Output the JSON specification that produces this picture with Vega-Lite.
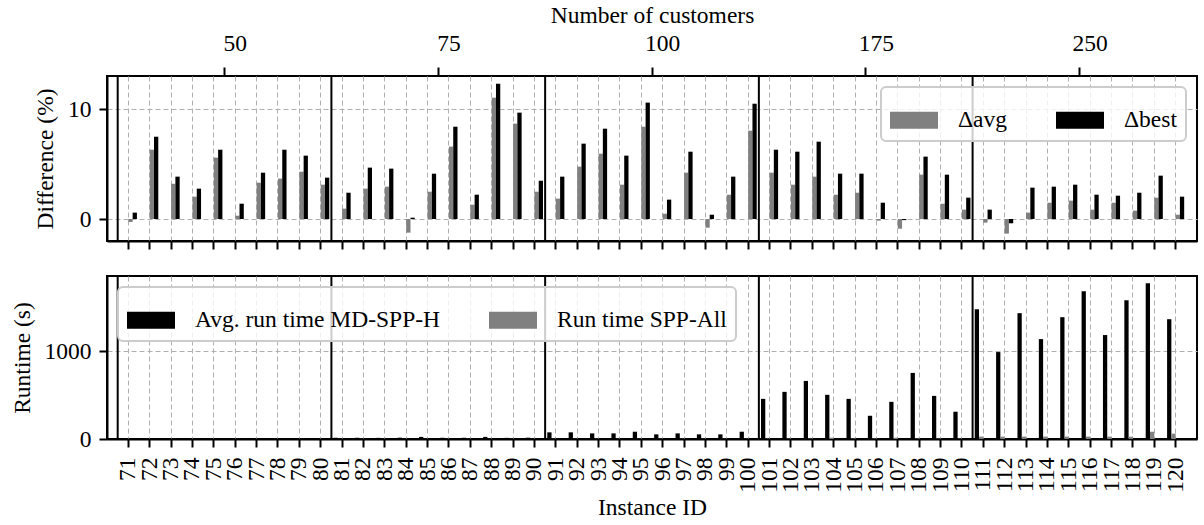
{
  "$schema": "https://vega.github.io/schema/vega-lite/v6.json",
  "padding": {"left": 9, "top": 2, "right": 5, "bottom": 0},
  "datasets": {
    "diff": [
      {"id":71,"measure":"Δavg","value":-0.27},{"id":71,"measure":"Δbest","value":0.58},
      {"id":72,"measure":"Δavg","value":6.30},{"id":72,"measure":"Δbest","value":7.48},
      {"id":73,"measure":"Δavg","value":3.20},{"id":73,"measure":"Δbest","value":3.85},
      {"id":74,"measure":"Δavg","value":2.03},{"id":74,"measure":"Δbest","value":2.76},
      {"id":75,"measure":"Δavg","value":5.58},{"id":75,"measure":"Δbest","value":6.30},
      {"id":76,"measure":"Δavg","value":0.30},{"id":76,"measure":"Δbest","value":1.39},
      {"id":77,"measure":"Δavg","value":3.30},{"id":77,"measure":"Δbest","value":4.21},
      {"id":78,"measure":"Δavg","value":3.67},{"id":78,"measure":"Δbest","value":6.30},
      {"id":79,"measure":"Δavg","value":4.30},{"id":79,"measure":"Δbest","value":5.76},
      {"id":80,"measure":"Δavg","value":3.12},{"id":80,"measure":"Δbest","value":3.76},
      {"id":81,"measure":"Δavg","value":0.94},{"id":81,"measure":"Δbest","value":2.39},
      {"id":82,"measure":"Δavg","value":2.76},{"id":82,"measure":"Δbest","value":4.67},
      {"id":83,"measure":"Δavg","value":2.94},{"id":83,"measure":"Δbest","value":4.58},
      {"id":84,"measure":"Δavg","value":-1.24},{"id":84,"measure":"Δbest","value":0.12},
      {"id":85,"measure":"Δavg","value":2.48},{"id":85,"measure":"Δbest","value":4.12},
      {"id":86,"measure":"Δavg","value":6.58},{"id":86,"measure":"Δbest","value":8.39},
      {"id":87,"measure":"Δavg","value":1.30},{"id":87,"measure":"Δbest","value":2.21},
      {"id":88,"measure":"Δavg","value":11.03},{"id":88,"measure":"Δbest","value":12.30},
      {"id":89,"measure":"Δavg","value":8.67},{"id":89,"measure":"Δbest","value":9.67},
      {"id":90,"measure":"Δavg","value":2.48},{"id":90,"measure":"Δbest","value":3.48},
      {"id":91,"measure":"Δavg","value":1.85},{"id":91,"measure":"Δbest","value":3.85},
      {"id":92,"measure":"Δavg","value":4.76},{"id":92,"measure":"Δbest","value":6.85},
      {"id":93,"measure":"Δavg","value":5.94},{"id":93,"measure":"Δbest","value":8.21},
      {"id":94,"measure":"Δavg","value":3.12},{"id":94,"measure":"Δbest","value":5.76},
      {"id":95,"measure":"Δavg","value":8.39},{"id":95,"measure":"Δbest","value":10.58},
      {"id":96,"measure":"Δavg","value":0.48},{"id":96,"measure":"Δbest","value":1.76},
      {"id":97,"measure":"Δavg","value":4.21},{"id":97,"measure":"Δbest","value":6.12},
      {"id":98,"measure":"Δavg","value":-0.79},{"id":98,"measure":"Δbest","value":0.39},
      {"id":99,"measure":"Δavg","value":2.21},{"id":99,"measure":"Δbest","value":3.85},
      {"id":100,"measure":"Δavg","value":8.03},{"id":100,"measure":"Δbest","value":10.48},
      {"id":101,"measure":"Δavg","value":4.21},{"id":101,"measure":"Δbest","value":6.30},
      {"id":102,"measure":"Δavg","value":3.12},{"id":102,"measure":"Δbest","value":6.12},
      {"id":103,"measure":"Δavg","value":3.85},{"id":103,"measure":"Δbest","value":7.03},
      {"id":104,"measure":"Δavg","value":2.21},{"id":104,"measure":"Δbest","value":4.12},
      {"id":105,"measure":"Δavg","value":2.39},{"id":105,"measure":"Δbest","value":4.12},
      {"id":106,"measure":"Δavg","value":-0.15},{"id":106,"measure":"Δbest","value":1.48},
      {"id":107,"measure":"Δavg","value":-0.88},{"id":107,"measure":"Δbest","value":-0.10},
      {"id":108,"measure":"Δavg","value":4.03},{"id":108,"measure":"Δbest","value":5.67},
      {"id":109,"measure":"Δavg","value":1.39},{"id":109,"measure":"Δbest","value":4.03},
      {"id":110,"measure":"Δavg","value":0.85},{"id":110,"measure":"Δbest","value":1.94},
      {"id":111,"measure":"Δavg","value":-0.33},{"id":111,"measure":"Δbest","value":0.85},
      {"id":112,"measure":"Δavg","value":-1.33},{"id":112,"measure":"Δbest","value":-0.39},
      {"id":113,"measure":"Δavg","value":0.58},{"id":113,"measure":"Δbest","value":2.85},
      {"id":114,"measure":"Δavg","value":1.48},{"id":114,"measure":"Δbest","value":2.94},
      {"id":115,"measure":"Δavg","value":1.67},{"id":115,"measure":"Δbest","value":3.12},
      {"id":116,"measure":"Δavg","value":0.85},{"id":116,"measure":"Δbest","value":2.21},
      {"id":117,"measure":"Δavg","value":1.48},{"id":117,"measure":"Δbest","value":2.12},
      {"id":118,"measure":"Δavg","value":0.76},{"id":118,"measure":"Δbest","value":2.39},
      {"id":119,"measure":"Δavg","value":1.94},{"id":119,"measure":"Δbest","value":3.94},
      {"id":120,"measure":"Δavg","value":0.39},{"id":120,"measure":"Δbest","value":2.03}
    ],
    "runtime": [
      {"id":71,"measure":"Avg. run time MD-SPP-H","value":3},{"id":71,"measure":"Run time SPP-All","value":0.5},
      {"id":72,"measure":"Avg. run time MD-SPP-H","value":3},{"id":72,"measure":"Run time SPP-All","value":0.5},
      {"id":73,"measure":"Avg. run time MD-SPP-H","value":3},{"id":73,"measure":"Run time SPP-All","value":0.5},
      {"id":74,"measure":"Avg. run time MD-SPP-H","value":3},{"id":74,"measure":"Run time SPP-All","value":0.5},
      {"id":75,"measure":"Avg. run time MD-SPP-H","value":4},{"id":75,"measure":"Run time SPP-All","value":0.5},
      {"id":76,"measure":"Avg. run time MD-SPP-H","value":3},{"id":76,"measure":"Run time SPP-All","value":0.5},
      {"id":77,"measure":"Avg. run time MD-SPP-H","value":3},{"id":77,"measure":"Run time SPP-All","value":0.5},
      {"id":78,"measure":"Avg. run time MD-SPP-H","value":4},{"id":78,"measure":"Run time SPP-All","value":0.5},
      {"id":79,"measure":"Avg. run time MD-SPP-H","value":3},{"id":79,"measure":"Run time SPP-All","value":0.5},
      {"id":80,"measure":"Avg. run time MD-SPP-H","value":3},{"id":80,"measure":"Run time SPP-All","value":0.5},
      {"id":81,"measure":"Avg. run time MD-SPP-H","value":14},{"id":81,"measure":"Run time SPP-All","value":1},
      {"id":82,"measure":"Avg. run time MD-SPP-H","value":14},{"id":82,"measure":"Run time SPP-All","value":1},
      {"id":83,"measure":"Avg. run time MD-SPP-H","value":13},{"id":83,"measure":"Run time SPP-All","value":1},
      {"id":84,"measure":"Avg. run time MD-SPP-H","value":15},{"id":84,"measure":"Run time SPP-All","value":1},
      {"id":85,"measure":"Avg. run time MD-SPP-H","value":24},{"id":85,"measure":"Run time SPP-All","value":1},
      {"id":86,"measure":"Avg. run time MD-SPP-H","value":14},{"id":86,"measure":"Run time SPP-All","value":1},
      {"id":87,"measure":"Avg. run time MD-SPP-H","value":14},{"id":87,"measure":"Run time SPP-All","value":1},
      {"id":88,"measure":"Avg. run time MD-SPP-H","value":24},{"id":88,"measure":"Run time SPP-All","value":1},
      {"id":89,"measure":"Avg. run time MD-SPP-H","value":13},{"id":89,"measure":"Run time SPP-All","value":1},
      {"id":90,"measure":"Avg. run time MD-SPP-H","value":15},{"id":90,"measure":"Run time SPP-All","value":1},
      {"id":91,"measure":"Avg. run time MD-SPP-H","value":76},{"id":91,"measure":"Run time SPP-All","value":2},
      {"id":92,"measure":"Avg. run time MD-SPP-H","value":76},{"id":92,"measure":"Run time SPP-All","value":2},
      {"id":93,"measure":"Avg. run time MD-SPP-H","value":64},{"id":93,"measure":"Run time SPP-All","value":2},
      {"id":94,"measure":"Avg. run time MD-SPP-H","value":64},{"id":94,"measure":"Run time SPP-All","value":2},
      {"id":95,"measure":"Avg. run time MD-SPP-H","value":83},{"id":95,"measure":"Run time SPP-All","value":2},
      {"id":96,"measure":"Avg. run time MD-SPP-H","value":53},{"id":96,"measure":"Run time SPP-All","value":2},
      {"id":97,"measure":"Avg. run time MD-SPP-H","value":64},{"id":97,"measure":"Run time SPP-All","value":2},
      {"id":98,"measure":"Avg. run time MD-SPP-H","value":53},{"id":98,"measure":"Run time SPP-All","value":2},
      {"id":99,"measure":"Avg. run time MD-SPP-H","value":53},{"id":99,"measure":"Run time SPP-All","value":2},
      {"id":100,"measure":"Avg. run time MD-SPP-H","value":83},{"id":100,"measure":"Run time SPP-All","value":2},
      {"id":101,"measure":"Avg. run time MD-SPP-H","value":458},{"id":101,"measure":"Run time SPP-All","value":4},
      {"id":102,"measure":"Avg. run time MD-SPP-H","value":538},{"id":102,"measure":"Run time SPP-All","value":4},
      {"id":103,"measure":"Avg. run time MD-SPP-H","value":663},{"id":103,"measure":"Run time SPP-All","value":4},
      {"id":104,"measure":"Avg. run time MD-SPP-H","value":504},{"id":104,"measure":"Run time SPP-All","value":15},
      {"id":105,"measure":"Avg. run time MD-SPP-H","value":458},{"id":105,"measure":"Run time SPP-All","value":4},
      {"id":106,"measure":"Avg. run time MD-SPP-H","value":265},{"id":106,"measure":"Run time SPP-All","value":4},
      {"id":107,"measure":"Avg. run time MD-SPP-H","value":424},{"id":107,"measure":"Run time SPP-All","value":15},
      {"id":108,"measure":"Avg. run time MD-SPP-H","value":754},{"id":108,"measure":"Run time SPP-All","value":4},
      {"id":109,"measure":"Avg. run time MD-SPP-H","value":492},{"id":109,"measure":"Run time SPP-All","value":4},
      {"id":110,"measure":"Avg. run time MD-SPP-H","value":311},{"id":110,"measure":"Run time SPP-All","value":4},
      {"id":111,"measure":"Avg. run time MD-SPP-H","value":1481},{"id":111,"measure":"Run time SPP-All","value":27},
      {"id":112,"measure":"Avg. run time MD-SPP-H","value":992},{"id":112,"measure":"Run time SPP-All","value":27},
      {"id":113,"measure":"Avg. run time MD-SPP-H","value":1436},{"id":113,"measure":"Run time SPP-All","value":27},
      {"id":114,"measure":"Avg. run time MD-SPP-H","value":1140},{"id":114,"measure":"Run time SPP-All","value":27},
      {"id":115,"measure":"Avg. run time MD-SPP-H","value":1390},{"id":115,"measure":"Run time SPP-All","value":27},
      {"id":116,"measure":"Avg. run time MD-SPP-H","value":1686},{"id":116,"measure":"Run time SPP-All","value":27},
      {"id":117,"measure":"Avg. run time MD-SPP-H","value":1186},{"id":117,"measure":"Run time SPP-All","value":27},
      {"id":118,"measure":"Avg. run time MD-SPP-H","value":1583},{"id":118,"measure":"Run time SPP-All","value":27},
      {"id":119,"measure":"Avg. run time MD-SPP-H","value":1776},{"id":119,"measure":"Run time SPP-All","value":83},
      {"id":120,"measure":"Avg. run time MD-SPP-H","value":1367},{"id":120,"measure":"Run time SPP-All","value":61}
    ],
    "groups": [
      {"customers":50,"first_id":71},
      {"customers":75,"first_id":81},
      {"customers":100,"first_id":91},
      {"customers":175,"first_id":101},
      {"customers":250,"first_id":111}
    ]
  },
  "vconcat": [
    {
      "width": 1090,
      "height": 165,
      "layer": [
        {
          "data": {"name": "diff"},
          "mark": {"type": "bar"},
          "encoding": {
            "x": {"field": "id", "type": "ordinal",
                  "scale": {"paddingInner": 0.2, "paddingOuter": 0.6},
                  "axis": {"orient": "bottom", "labels": false, "title": null, "grid": true}},
            "xOffset": {"field": "measure", "type": "nominal", "scale": {"paddingInner": 0, "paddingOuter": 0}},
            "y": {"field": "value", "type": "quantitative",
                  "scale": {"domain": [-2, 13], "nice": false, "zero": false},
                  "axis": {"title": "Difference (%)", "values": [0, 10], "grid": true, "format": "d"}},
            "color": {"field": "measure", "type": "nominal",
                      "scale": {"domain": ["Δavg", "Δbest"], "range": ["#808080", "#000000"]},
                      "legend": {"orient": "top-right", "direction": "horizontal", "title": null}}
          }
        },
        {
          "data": {"name": "groups"},
          "mark": {"type": "rule", "color": "black", "strokeWidth": 2},
          "encoding": {
            "x": {"field": "first_id", "type": "ordinal", "bandPosition": -0.125,
                  "scale": {"paddingInner": 0.2, "paddingOuter": 0.6},
                  "axis": {"orient": "top", "title": "Number of customers",
                           "values": [76, 86, 96, 106, 116], "bandPosition": -0.125,
                           "labelAngle": 0, "labelPadding": 12, "titlePadding": 4, "tickSize": 9,
                           "grid": false, "domain": false,
                           "labelExpr": "{'76':'50','86':'75','96':'100','106':'175','116':'250'}[datum.label]"}}
          }
        }
      ]
    },
    {
      "width": 1090,
      "height": 163,
      "layer": [
        {
          "data": {"name": "runtime"},
          "mark": {"type": "bar"},
          "encoding": {
            "x": {"field": "id", "type": "ordinal",
                  "scale": {"paddingInner": 0.2, "paddingOuter": 0.6},
                  "axis": {"orient": "bottom", "title": "Instance ID", "labelAngle": 270, "grid": true, "labelPadding": 10, "titlePadding": 3}},
            "xOffset": {"field": "measure", "type": "nominal", "scale": {"paddingInner": 0, "paddingOuter": 0}},
            "y": {"field": "value", "type": "quantitative",
                  "scale": {"domain": [0, 1860], "nice": false},
                  "axis": {"title": "Runtime (s)", "values": [0, 1000], "grid": true, "format": "d"}},
            "color": {"field": "measure", "type": "nominal",
                      "scale": {"domain": ["Avg. run time MD-SPP-H", "Run time SPP-All"], "range": ["#000000", "#808080"]},
                      "legend": {"orient": "top-left", "direction": "horizontal", "title": null}}
          }
        },
        {
          "data": {"name": "groups"},
          "mark": {"type": "rule", "color": "black", "strokeWidth": 2},
          "encoding": {
            "x": {"field": "first_id", "type": "ordinal", "bandPosition": -0.125,
                  "scale": {"paddingInner": 0.2, "paddingOuter": 0.6},
                  "axis": {"orient": "bottom", "title": "Instance ID", "labelAngle": 270, "grid": true, "labelPadding": 10, "titlePadding": 3}}
          }
        }
      ]
    }
  ],
  "spacing": 23,
  "resolve": {"scale": {"color": "independent", "y": "independent"}, "legend": {"color": "independent"}},
  "config": {
    "font": "Liberation Serif, Times New Roman, DejaVu Serif, serif",
    "background": "white",
    "view": {"stroke": "black", "strokeWidth": 2},
    "axis": {
      "labelFont": "Liberation Serif, Times New Roman, DejaVu Serif, serif",
      "titleFont": "Liberation Serif, Times New Roman, DejaVu Serif, serif",
      "labelFontSize": 23.5, "titleFontSize": 23.5, "titleFontWeight": "normal",
      "labelColor": "black", "titleColor": "black",
      "tickColor": "black", "tickWidth": 2, "tickSize": 8,
      "domainColor": "black", "domainWidth": 2,
      "labelPadding": 8, "titlePadding": 10,
      "gridColor": "#b0b0b0", "gridDash": [5, 3], "gridWidth": 1
    },
    "legend": {
      "labelFont": "Liberation Serif, Times New Roman, DejaVu Serif, serif",
      "labelFontSize": 23.5, "labelColor": "black",
      "symbolType": "M-1,-0.35H1V0.35H-1Z", "symbolSize": 2304, "symbolStrokeWidth": 0, "symbolOpacity": 1,
      "labelOffset": 20, "columnPadding": 48, "padding": 9,
      "strokeColor": "#cccccc", "strokeWidth": 2, "fillColor": "rgba(255,255,255,0.8)", "cornerRadius": 5,
      "offset": 11, "labelLimit": 400
    }
  }
}
